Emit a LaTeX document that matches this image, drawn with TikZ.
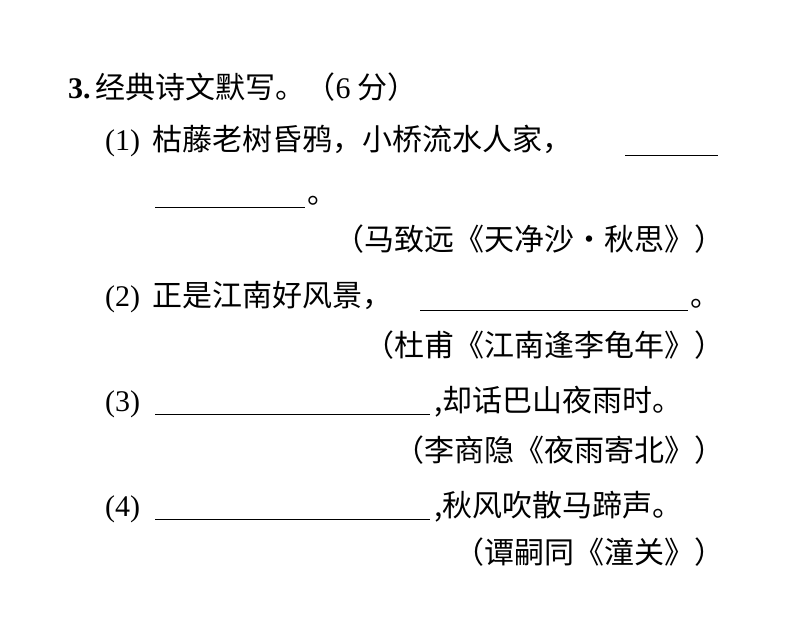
\documentclass[tikz,border=0pt]{standalone}
\usepackage{fontspec}
\setmainfont{Liberation Serif}
\newfontfamily\cjk{Noto Sans CJK SC}[Scale=1]
\newcommand{\pn}[1]{\makebox[47pt][l]{\rmfamily(#1)}}
\begin{document}
\begin{tikzpicture}[x=1pt,y=-1pt,
  txt/.style={inner sep=0pt,anchor=base west,font=\cjk\fontsize{30}{32}\selectfont},
  src/.style={inner sep=0pt,anchor=base east,font=\cjk\fontsize{30}{32}\selectfont},
  blank/.style={line width=0.8pt}]
\useasboundingbox (0,0) rectangle (794,644);
\node[txt] (t) at (68,99) {{\rmfamily\bfseries 3.}\,经典诗文默写。（{\rmfamily 6} 分）};
\node[txt] (a1) at (105,151) {\pn{1}枯藤老树昏鸦，小桥流水人家，};
\draw[blank] (625,155) -- (718,155);
\draw[blank] (155,207) -- (305,207);
\node[txt] (a1e) at (307,204) {。};
\node[src] (s1) at (725,251) {（马致远《天净沙·秋思》）};
\node[txt] (a2) at (105,306) {\pn{2}正是江南好风景，};
\draw[blank] (420,310) -- (688,310);
\node[txt] (a2e) at (690,306) {。};
\node[src] (s2) at (725,356) {（杜甫《江南逢李龟年》）};
\node[txt] (a3) at (105,411) {\pn{3}};
\draw[blank] (155,414) -- (430,414);
\node[txt] (a3e) at (434,411) {,却话巴山夜雨时。};
\node[src] (s3) at (725,461) {（李商隐《夜雨寄北》）};
\node[txt] (a4) at (105,516) {\pn{4}};
\draw[blank] (155,519) -- (430,519);
\node[txt] (a4e) at (434,516) {,秋风吹散马蹄声。};
\node[src] (s4) at (725,563) {（谭嗣同《潼关》）};
\end{tikzpicture}
\end{document}
